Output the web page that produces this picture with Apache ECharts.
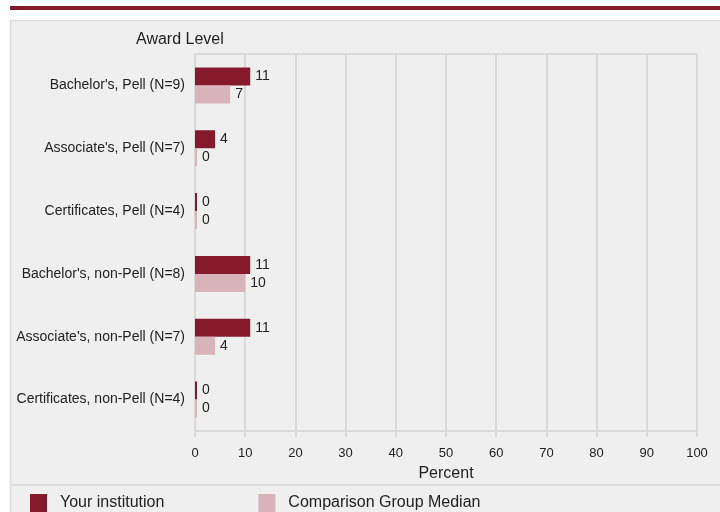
<!DOCTYPE html>
<html>
<head>
<meta charset="utf-8">
<script src="https://cdn.jsdelivr.net/npm/echarts@6/dist/echarts.min.js"></script>
<style>
  html, body { margin: 0; padding: 0; background: #fff; }
  #chart { width: 720px; height: 512px; }
</style>
</head>
<body>
<div id="chart"></div>
<script>
var categories = [
  "Bachelor's, Pell (N=9)",
  "Associate's, Pell (N=7)",
  "Certificates, Pell (N=4)",
  "Bachelor's, non-Pell (N=8)",
  "Associate's, non-Pell (N=7)",
  "Certificates, non-Pell (N=4)"
];
var seriesNames = ['Your institution', 'Comparison Group Median'];
var institution = [11, 4, 0, 11, 11, 0];
var comparison = [7, 0, 0, 10, 4, 0];

var maroon = '#861a2d';
var pink = '#d8b3b9';
var grid = '#d9d9d9';
var ink = '#222';
var font = 'Liberation Sans, Arial, sans-serif';

var chart = echarts.init(document.getElementById('chart'), null, { renderer: 'canvas' });

function barSeries(name, data, color) {
  return {
    name: name,
    type: 'bar',
    data: data,
    barWidth: 18,
    barGap: '0%',
    barMinHeight: 2,
    itemStyle: { color: color },
    label: {
      show: true,
      position: 'right',
      distance: 5,
      color: ink,
      fontSize: 14,
      fontFamily: font
    }
  };
}

chart.setOption({
  animation: false,
  backgroundColor: '#fff',
  textStyle: { fontFamily: font },
  graphic: [
    { type: 'rect', z: -10, shape: { x: 10, y: 6, width: 710, height: 4 }, style: { fill: maroon } },
    { type: 'rect', z: -10, shape: { x: 10.5, y: 20.5, width: 720, height: 500 },
      style: { fill: '#efefef', stroke: '#dcdcdc', lineWidth: 1.5 } },
    { type: 'line', z: -9, shape: { x1: 10, y1: 485, x2: 720, y2: 485 },
      style: { stroke: '#dcdcdc', lineWidth: 2 } }
  ],
  title: {
    text: 'Award Level',
    left: 136,
    top: 32,
    padding: 0,
    textStyle: { color: ink, fontSize: 16, fontWeight: 'normal', fontFamily: font }
  },
  legend: {
    left: 30,
    top: 494,
    padding: 0,
    itemWidth: 17,
    itemHeight: 18,
    itemGap: 94,
    icon: 'rect',
    data: seriesNames,
    textStyle: { color: ink, fontSize: 16, fontFamily: font, padding: [4, 0, 0, 8] }
  },
  grid: { left: 195, right: 23, top: 54, bottom: 81, containLabel: false },
  xAxis: [{
    type: 'value',
    min: 0,
    max: 100,
    interval: 10,
    name: 'Percent',
    nameLocation: 'middle',
    nameGap: 35,
    nameTextStyle: { color: ink, fontSize: 16, fontFamily: font },
    axisLabel: { color: ink, fontSize: 13, margin: 16, fontFamily: font },
    axisLine: { show: true, lineStyle: { color: grid, width: 2 } },
    axisTick: { show: true, length: 6, lineStyle: { color: grid, width: 2 } },
    splitLine: { show: true, lineStyle: { color: grid, width: 2 } }
  }, {
    type: 'value',
    position: 'top',
    min: 0,
    max: 100,
    interval: 10,
    axisLabel: { show: false },
    axisTick: { show: false },
    splitLine: { show: false },
    axisLine: { show: true, lineStyle: { color: grid, width: 2 } }
  }],
  yAxis: {
    type: 'category',
    inverse: true,
    data: categories,
    axisLine: { show: false },
    axisTick: { show: false },
    axisLabel: { color: ink, fontSize: 14, margin: 10, fontFamily: font }
  },
  series: [
    barSeries(seriesNames[0], institution, maroon),
    barSeries(seriesNames[1], comparison, pink)
  ]
});
</script>
</body>
</html>
